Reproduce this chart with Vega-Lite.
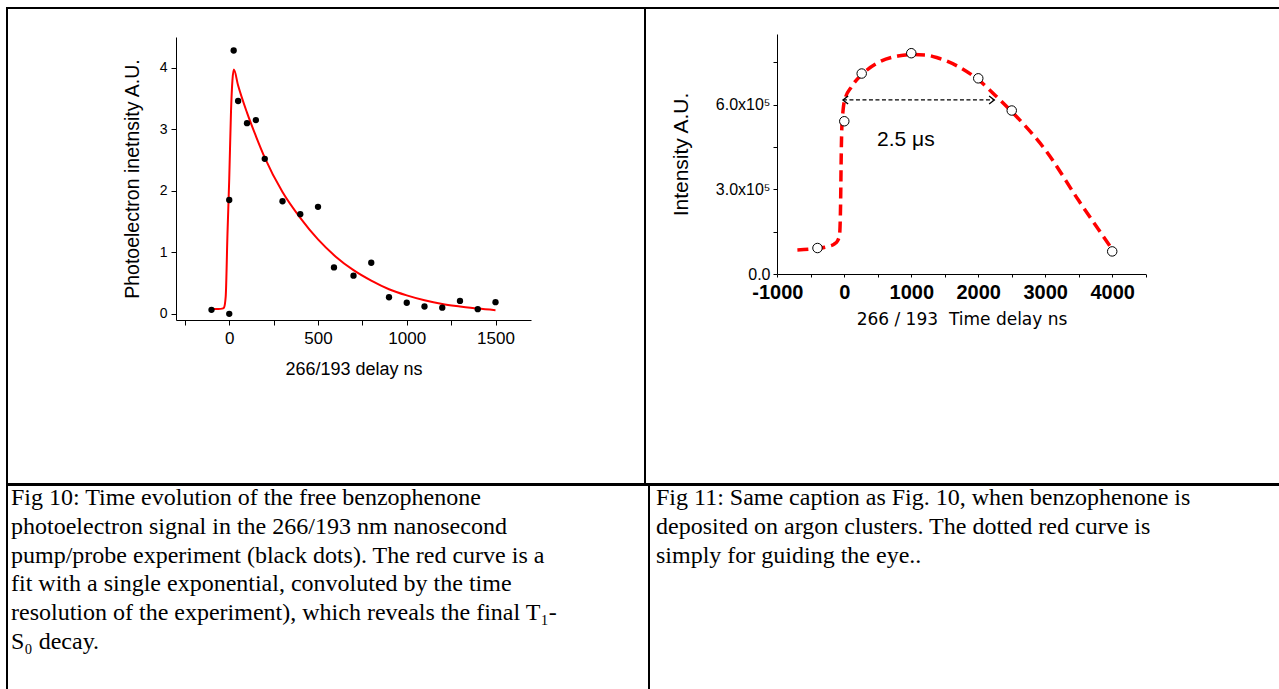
{
  "$schema": "https://vega.github.io/schema/vega-lite/v6.json",
  "padding": {"left": 6, "top": 7, "right": 0, "bottom": 0},
  "background": "white",
  "config": {
    "view": {"stroke": "black", "strokeWidth": 2},
    "axis": {"grid": false, "labelColor": "black", "titleColor": "black", "domainColor": "black", "tickColor": "black", "labelFont": "Liberation Sans", "titleFont": "Liberation Sans", "titleFontWeight": "normal", "labelOverlap": false, "labelFlush": false, "labelBound": false}
  },
  "datasets": {
    "fit10": [
      {"t": -100, "v": 0.08}, {"t": -60, "v": 0.08}, {"t": -40, "v": 0.085}, {"t": -30, "v": 0.1}, {"t": -20, "v": 0.28}, {"t": -10, "v": 1.3}, {"t": 0, "v": 2.2}, {"t": 10, "v": 3.3}, {"t": 18, "v": 3.8}, {"t": 26, "v": 3.97}, {"t": 50, "v": 3.71}, {"t": 100, "v": 3.27}, {"t": 150, "v": 2.89}, {"t": 200, "v": 2.54}, {"t": 300, "v": 1.98}, {"t": 400, "v": 1.56}, {"t": 500, "v": 1.21}, {"t": 600, "v": 0.93}, {"t": 700, "v": 0.71}, {"t": 800, "v": 0.54}, {"t": 900, "v": 0.4}, {"t": 1000, "v": 0.3}, {"t": 1100, "v": 0.22}, {"t": 1200, "v": 0.16}, {"t": 1300, "v": 0.12}, {"t": 1400, "v": 0.085}, {"t": 1500, "v": 0.06}
    ],
    "pts10": [
      {"t": -100, "v": 0.065}, {"t": 0, "v": 0.0}, {"t": 0, "v": 1.85}, {"t": 25, "v": 4.28}, {"t": 50, "v": 3.46}, {"t": 100, "v": 3.1}, {"t": 150, "v": 3.15}, {"t": 200, "v": 2.52}, {"t": 300, "v": 1.83}, {"t": 400, "v": 1.62}, {"t": 500, "v": 1.74}, {"t": 590, "v": 0.755}, {"t": 700, "v": 0.62}, {"t": 800, "v": 0.83}, {"t": 900, "v": 0.27}, {"t": 1000, "v": 0.18}, {"t": 1100, "v": 0.12}, {"t": 1200, "v": 0.1}, {"t": 1300, "v": 0.21}, {"t": 1400, "v": 0.076}, {"t": 1500, "v": 0.19}
    ],
    "curve11": [
      {"t": -700, "v": 85000}, {"t": -400, "v": 91000}, {"t": -250, "v": 97000}, {"t": -150, "v": 106000}, {"t": -100, "v": 118000}, {"t": -70, "v": 140000}, {"t": -55, "v": 250000}, {"t": -45, "v": 430000}, {"t": -35, "v": 530000}, {"t": -20, "v": 575000}, {"t": 0, "v": 611000}, {"t": 110, "v": 664000}, {"t": 270, "v": 708000}, {"t": 500, "v": 748000}, {"t": 800, "v": 772000}, {"t": 1000, "v": 777000}, {"t": 1200, "v": 776000}, {"t": 1400, "v": 765000}, {"t": 1700, "v": 735000}, {"t": 2000, "v": 688000}, {"t": 2300, "v": 622000}, {"t": 2500, "v": 575000}, {"t": 3000, "v": 440000}, {"t": 3500, "v": 260000}, {"t": 4000, "v": 88000}
    ],
    "pts11": [
      {"t": -400, "v": 92000}, {"t": 0, "v": 541000}, {"t": 260, "v": 710000}, {"t": 1000, "v": 782000}, {"t": 2000, "v": 693000}, {"t": 2500, "v": 579000}, {"t": 4000, "v": 80000}
    ],
    "arrow": [
      {"t": -20, "v": 616500, "end": "left"}, {"t": 2240, "v": 616500, "end": "right"}
    ],
    "label11": [{"t": 920, "v": 453000, "text": "2.5 μs"}],
    "cap10": [
      {"line": 1, "text": "Fig 10: Time evolution of the free benzophenone"},
      {"line": 2, "text": "photoelectron signal in the 266/193 nm nanosecond"},
      {"line": 3, "text": "pump/probe experiment (black dots). The red curve is a"},
      {"line": 4, "text": "fit with a single exponential, convoluted by the time"},
      {"line": 5, "text": "resolution of the experiment), which reveals the final T₁-"},
      {"line": 6, "text": "S₀ decay."}
    ],
    "cap11": [
      {"line": 1, "text": "Fig 11: Same caption as Fig. 10, when benzophenone is"},
      {"line": 2, "text": "deposited on argon clusters. The dotted red curve is"},
      {"line": 3, "text": "simply for guiding the eye.."}
    ]
  },
  "spacing": -2,
  "bounds": "full",
  "vconcat": [
    {
      "spacing": 0,
      "bounds": "flush",
      "hconcat": [
        {
          "width": 638,
          "height": 476,
          "encoding": {
            "x": {"field": "t", "type": "quantitative", "scale": {"domain": [-300, 1700], "range": [169, 524], "nice": false, "zero": false},
              "axis": {"title": "266/193 delay ns", "offset": -164, "values": [-250, 0, 250, 500, 750, 1000, 1250, 1500], "format": "d", "labelExpr": "datum.value % 500 == 0 ? datum.label : ''", "tickSize": 5, "labelPadding": 5, "labelFontSize": 17, "titleFontSize": 18, "titlePadding": 14}},
            "y": {"field": "v", "type": "quantitative", "scale": {"domain": [-0.1, 4.5], "range": [312, 29], "nice": false, "zero": false},
              "axis": {"title": "Photoelectron inetnsity A.U.", "offset": -169, "values": [0, 1, 2, 3, 4], "format": "d", "tickSize": 5, "labelPadding": 4, "labelFontSize": 14, "titleFontSize": 19.5, "titlePadding": 17}}
          },
          "layer": [
            {"data": {"name": "fit10"}, "mark": {"type": "line", "color": "#ff0000", "strokeWidth": 2, "interpolate": "monotone"}},
            {"data": {"name": "pts10"}, "mark": {"type": "point", "filled": true, "color": "black", "size": 40, "opacity": 1}}
          ]
        },
        {
          "width": 637,
          "height": 476,
          "encoding": {
            "x": {"field": "t", "type": "quantitative", "scale": {"domain": [-1000, 4500], "range": [132.3, 500.7], "nice": false, "zero": false},
              "axis": {"title": "266 / 193\u00a0\u00a0Time delay ns", "titleFont": "DejaVu Sans", "titleFontSize": 17, "titlePadding": 9, "offset": -210, "values": [-1000, -500, 0, 500, 1000, 1500, 2000, 2500, 3000, 3500, 4000, 4500], "labelExpr": "datum.value % 1000 == 0 ? toString(datum.value) : ''", "labelFontWeight": "bold", "labelFontSize": 20, "tickSize": 3, "labelPadding": 5}},
            "y": {"field": "v", "type": "quantitative", "scale": {"domain": [0, 850000], "range": [266, 26], "nice": false, "zero": false},
              "axis": {"title": "Intensity A.U.", "titleFontSize": 21, "titlePadding": 24, "offset": -132, "values": [0, 150000, 300000, 450000, 600000, 750000], "labelExpr": "datum.value == 0 ? '0.0' : datum.value == 300000 ? '3.0x10⁵' : datum.value == 600000 ? '6.0x10⁵' : ''", "labelFontSize": 16, "tickSize": 4, "labelPadding": 3}}
          },
          "layer": [
            {"data": {"name": "curve11"}, "mark": {"type": "line", "color": "#ff0000", "strokeWidth": 3.5, "strokeDash": [11, 6], "interpolate": "monotone"}},
            {"data": {"name": "arrow"}, "mark": {"type": "line", "color": "black", "strokeWidth": 1.3, "strokeDash": [4, 2.5]}},
            {"data": {"name": "arrow"}, "mark": {"type": "point", "filled": false, "color": "black", "strokeWidth": 1.3, "size": 64, "opacity": 1},
              "encoding": {"shape": {"field": "end", "type": "nominal", "scale": {"domain": ["left", "right"], "range": ["M1.3,-1L0,0L1.3,1", "M-1.3,-1L0,0L-1.3,1"]}, "legend": null}}},
            {"data": {"name": "pts11"}, "mark": {"type": "point", "filled": true, "fill": "white", "stroke": "black", "strokeWidth": 1, "size": 90, "opacity": 1}},
            {"data": {"name": "label11"}, "mark": {"type": "text", "font": "Liberation Sans", "fontSize": 21, "color": "black", "align": "center", "baseline": "alphabetic"}, "encoding": {"text": {"field": "text"}}}
          ]
        }
      ]
    },
    {
      "spacing": 0,
      "bounds": "flush",
      "hconcat": [
        {
          "width": 642,
          "height": 209,
          "data": {"name": "cap10"},
          "mark": {"type": "text", "font": "Liberation Serif", "fontSize": 24, "color": "black", "align": "left", "baseline": "alphabetic"},
          "encoding": {
            "x": {"datum": 0, "type": "quantitative", "scale": {"domain": [0, 1], "range": [4, 640]}, "axis": null},
            "y": {"field": "line", "type": "quantitative", "scale": {"domain": [1, 6], "range": [20, 164]}, "axis": null},
            "text": {"field": "text"}
          }
        },
        {
          "width": 633,
          "height": 209,
          "data": {"name": "cap11"},
          "mark": {"type": "text", "font": "Liberation Serif", "fontSize": 24, "color": "black", "align": "left", "baseline": "alphabetic"},
          "encoding": {
            "x": {"datum": 0, "type": "quantitative", "scale": {"domain": [0, 1], "range": [7, 630]}, "axis": null},
            "y": {"field": "line", "type": "quantitative", "scale": {"domain": [1, 3], "range": [20, 77.6]}, "axis": null},
            "text": {"field": "text"}
          }
        }
      ]
    }
  ]
}
